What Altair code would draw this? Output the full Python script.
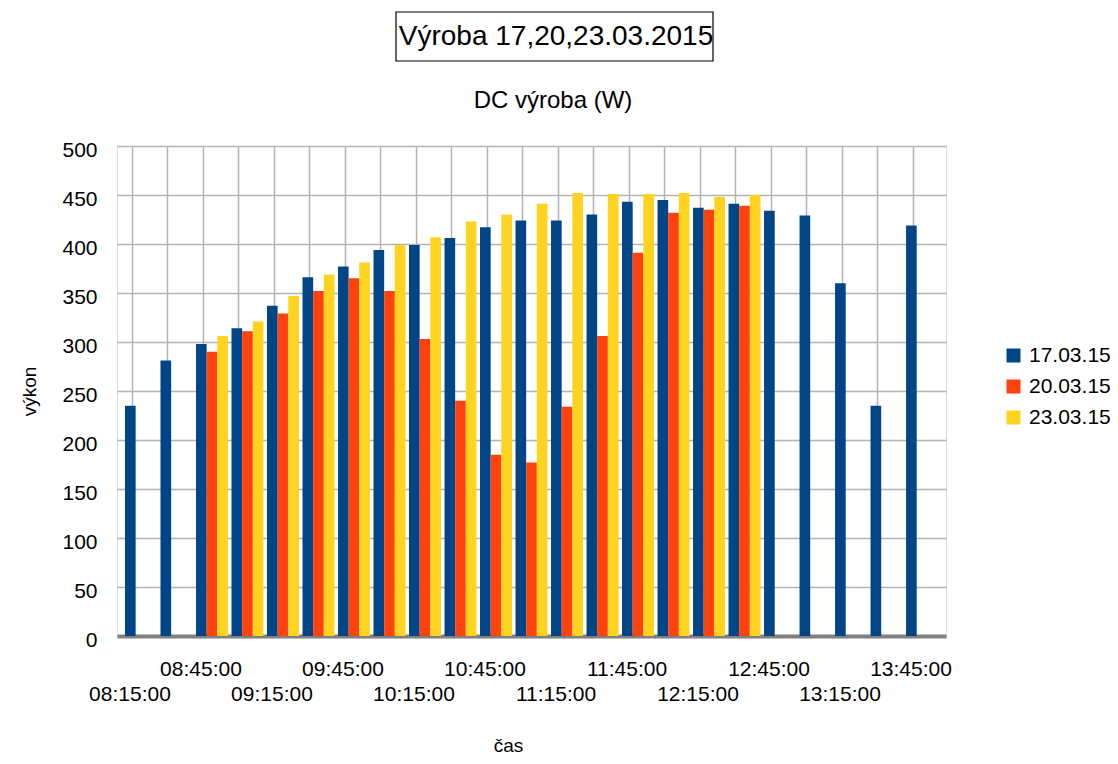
import altair as alt
import pandas as pd

times = ["08:15:00", "08:30:00", "08:45:00", "09:00:00", "09:15:00", "09:30:00",
         "09:45:00", "10:00:00", "10:15:00", "10:30:00", "10:45:00", "11:00:00",
         "11:15:00", "11:30:00", "11:45:00", "12:00:00", "12:15:00", "12:30:00",
         "12:45:00", "13:00:00", "13:15:00", "13:30:00", "13:45:00"]

series_names = ["17.03.15", "20.03.15", "23.03.15"]
colors = ["#004586", "#ff420e", "#ffd320"]

v_17 = [235, 281, 298, 314, 337, 366, 377, 394, 399, 406, 417, 424,
        424, 430, 443, 445, 437, 441, 434, 429, 360, 235, 419]
v_20 = [None, None, 290, 311, 329, 352, 365, 352, 303, 240, 185, 177,
        234, 306, 391, 432, 435, 439, None, None, None, None, None]
v_23 = [None, None, 306, 321, 347, 369, 381, 399, 407, 423, 430, 441,
        452, 451, 451, 452, 448, 450, None, None, None, None, None]

main_title = "Výroba 17,20,23.03.2015"
sub_title = "DC výroba (W)"

rows = []
for name, vals in zip(series_names, [v_17, v_20, v_23]):
    for t, v in zip(times, vals):
        if v is not None:
            rows.append({"cas": t, "serie": name, "vykon": v})
df = pd.DataFrame(rows)

W, H = 829, 490
FONT = "Liberation Sans"

label_expr = (
    "((toNumber(substring(datum.value,0,2))*60 + toNumber(substring(datum.value,3,5)) - 495)/15) % 4 == 0"
    " ? ['', datum.value] : "
    "(((toNumber(substring(datum.value,0,2))*60 + toNumber(substring(datum.value,3,5)) - 495)/15) % 4 == 2"
    " ? datum.value : '')"
)

bars = alt.Chart(df).mark_bar().encode(
    x=alt.X("cas:N", sort=times,
            scale=alt.Scale(paddingInner=0.1, paddingOuter=0.225),
            axis=alt.Axis(title="čas", labelExpr=label_expr, labelAngle=0,
                          labelOverlap=False, labelFontSize=21, labelFont=FONT,
                          labelColor="#000000", labelPadding=22, labelLineHeight=25,
                          labelOffset=-11,
                          ticks=False, bandPosition=0.22,
                          grid=True, gridColor="#b3b3b3", gridWidth=1.5,
                          domainColor="#808080", domainWidth=4,
                          titleFont=FONT, titleFontSize=19, titleFontWeight="normal",
                          titleColor="#000000", titlePadding=32, titleX=391)),
    xOffset=alt.XOffset("serie:N", sort=series_names),
    y=alt.Y("vykon:Q", scale=alt.Scale(domain=[0, 500]),
            axis=alt.Axis(title="výkon", values=list(range(0, 501, 50)),
                          labelFontSize=21, labelFont=FONT, labelColor="#000000",
                          labelPadding=20, labelOffset=4, ticks=False, domain=False,
                          gridColor="#b3b3b3", gridWidth=1.5,
                          titleFont=FONT, titleFontSize=19, titleFontWeight="normal",
                          titleColor="#000000", titlePadding=22)),
    color=alt.Color("serie:N", sort=series_names,
                    scale=alt.Scale(domain=series_names, range=colors),
                    legend=alt.Legend(title=None, orient="none", legendX=886, legendY=199,
                                      symbolType="square", symbolSize=196,
                                      symbolStrokeWidth=0,
                                      labelFont=FONT, labelFontSize=21,
                                      labelColor="#000000", rowPadding=9,
                                      labelOffset=5)),
)

one = pd.DataFrame({"k": [0]})

box = alt.Chart(one).mark_rect(
    filled=False, stroke="#000000", strokeWidth=1.2
).encode(
    x=alt.value(279), x2=alt.value(596), y=alt.value(-134), y2=alt.value(-85)
)

title_txt = alt.Chart(one).mark_text(
    font=FONT, fontSize=28, color="#000000", align="center", baseline="alphabetic"
).encode(x=alt.value(439), y=alt.value(-101), text=alt.value(main_title))

sub_txt = alt.Chart(one).mark_text(
    font=FONT, fontSize=24, color="#000000", align="center", baseline="alphabetic"
).encode(x=alt.value(436), y=alt.value(-38), text=alt.value(sub_title))

chart = alt.layer(bars, box, title_txt, sub_txt).properties(
    width=W, height=H,
    padding={"left": 109, "top": 138, "right": 164, "bottom": 120},
    autosize=alt.AutoSizeParams(type="none"),
).configure_view(stroke="#b3b3b3", strokeWidth=1.5).configure(background="#ffffff")

chart.save("out.html", embed_options={"renderer": "svg", "actions": False})
